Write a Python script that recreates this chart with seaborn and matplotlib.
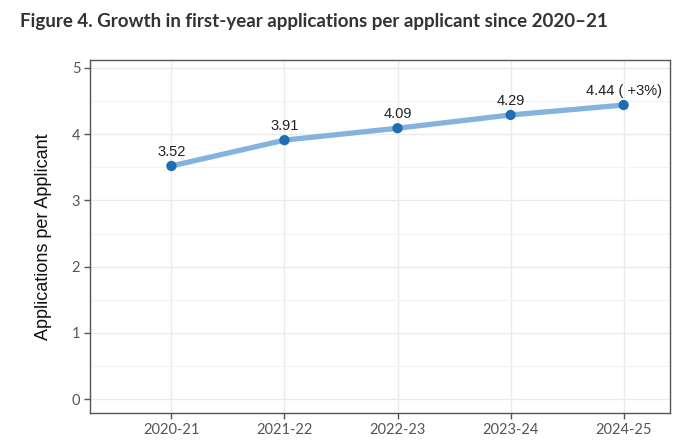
import matplotlib
matplotlib.use("Agg")
import matplotlib.pyplot as plt
import seaborn as sns
import pandas as pd
from matplotlib.ticker import MultipleLocator

years = ["2020-21", "2021-22", "2022-23", "2023-24", "2024-25"]
apps_per_applicant = [3.52, 3.91, 4.09, 4.29, 4.44]
point_labels = ["3.52", "3.91", "4.09", "4.29", "4.44 ( +3%)"]
title = "Figure 4. Growth in first-year applications per applicant since 2020\u201321"
y_label = "Applications per Applicant"

sns.set_theme(style="whitegrid")
plt.rcParams['font.family'] = ['Lato', 'DejaVu Sans']

df = pd.DataFrame({"year": years, "value": apps_per_applicant})

fig = plt.figure(figsize=(6.85, 4.42), dpi=100)
ax = fig.add_axes([90/685, 1-413/442, (670-90)/685, (413-60)/442])

sns.lineplot(data=df, x="year", y="value", ax=ax, sort=False,
             color="#84b3dd", linewidth=3.8, zorder=2)
sns.scatterplot(data=df, x="year", y="value", ax=ax, color="#1f6db3",
                s=55, edgecolor="none", zorder=3)

for i, (v, lab) in enumerate(zip(apps_per_applicant, point_labels)):
    ax.text(i, v + 0.11, lab, ha="center", va="bottom", fontsize=10.5,
            color="#222222", family=['Liberation Sans', 'DejaVu Sans'])

ax.set_xlim(-0.72, 4.41)
ax.set_ylim(-0.21, 5.12)
ax.yaxis.set_major_locator(MultipleLocator(1))
ax.yaxis.set_minor_locator(MultipleLocator(0.5))
ax.grid(which="major", color="#ebebeb", linewidth=1.0)
ax.grid(which="minor", axis="y", color="#f3f3f3", linewidth=0.8)
ax.set_axisbelow(True)
for s in ax.spines.values():
    s.set_color("#555555")
    s.set_linewidth(1.0)
ax.tick_params(axis="both", which="major", length=4, width=1, color="#555555",
               labelsize=10.5, labelcolor="#555555", pad=3,
               bottom=True, left=True)
ax.tick_params(axis="both", which="minor", length=0)
ax.set_xlabel("")
ax.set_ylabel(y_label, fontsize=13, color="#111111", labelpad=14,
              family=['Liberation Sans', 'DejaVu Sans'])

fig.text(20/685, 1-22/442, title, fontsize=13.5, fontweight="bold",
         color="#333333", ha="left", va="center")

fig.savefig("out.png", dpi=100)
